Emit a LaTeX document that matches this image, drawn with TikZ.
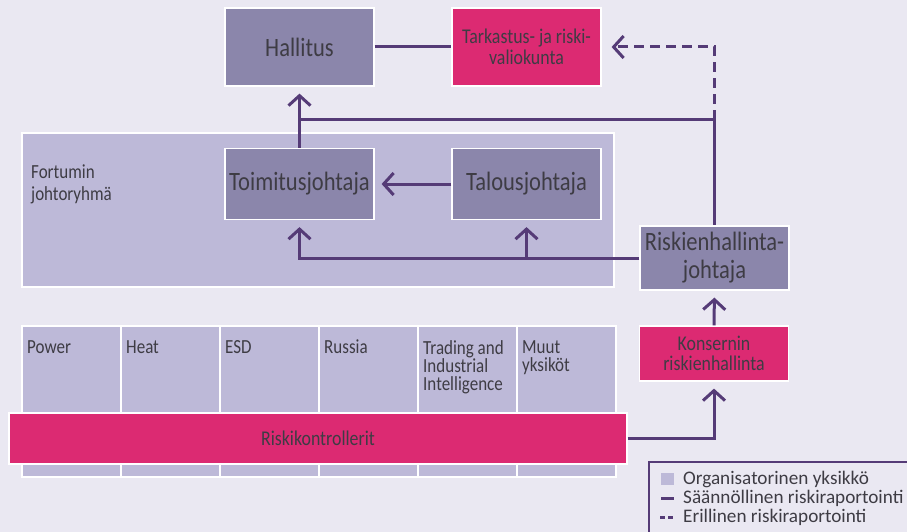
\documentclass[tikz,border=0pt]{standalone}
\usepackage{fontspec}
\setmainfont{Carlito}[FakeStretch=0.85]
\newfontfamily\legendfont{Carlito}
\usepackage{xcolor}
\usepackage{tikz}
\usetikzlibrary{positioning,arrows.meta}
\definecolor{paper}{RGB}{234,232,242}
\definecolor{unitfill}{RGB}{189,185,216}
\definecolor{headfill}{RGB}{139,134,171}
\definecolor{hot}{RGB}{220,42,114}
\definecolor{wire}{RGB}{85,59,119}
\definecolor{ink}{RGB}{62,60,68}

\begin{document}
\begin{tikzpicture}[x=1pt,y=-1pt,
  head/.style={draw=white,line width=1.2pt,fill=headfill,text=ink,minimum width=149pt,
               inner sep=0pt,align=center,font=\fontsize{26.5}{28}\selectfont},
  pink/.style={draw=white,line width=1.2pt,fill=hot,text=ink,minimum width=149pt,
               inner sep=0pt,align=center,font=\fontsize{21}{20.5}\selectfont},
  unit/.style={draw=white,line width=1.5pt,fill=unitfill,minimum width=99pt,
               minimum height=151pt,inner sep=0pt,anchor=north west},
  ulab/.style={anchor=north west,align=left,text=ink,inner sep=0pt,xshift=6pt,yshift=-15pt,
               font=\fontsize{20}{18}\selectfont},
  lgd/.style={anchor=west,text=ink,inner sep=0pt,font=\legendfont\fontsize{19.2}{20}\selectfont},
  ln/.style={draw=wire,line width=3pt},
  arr/.style={ln,-{Straight Barb[length=10pt,width=22pt]},shorten >=7pt},
  dsh/.style={arr,dash pattern=on 10pt off 6pt,shorten >=10pt}]
  \useasboundingbox[fill=paper] (0,0) rectangle (907,532);
  % ylin johto
  \node[head,minimum height=78pt] (hall) at (299.5,47) {Hallitus};
  \node[pink,minimum height=78pt] (tark) at (526.5,47) {Tarkastus- ja riski-\\valiokunta};
  % johtoryhma
  \node[draw=white,line width=1.5pt,fill=unitfill,minimum width=592pt,minimum height=154pt,
        inner sep=0pt] (grp) at (318,210) {};
  \node[anchor=west,align=left,text=ink,inner sep=0pt,font=\fontsize{20}{22}\selectfont]
    (grplab) at (31,184) {Fortumin\\johtoryhmä};
  \node[head,minimum height=71pt] (toim) at (299.5,184) {Toimitusjohtaja};
  \node[head,minimum height=71pt] (talo) at (526.5,184) {Talousjohtaja};
  \node[head,minimum height=64pt] (rhj) at (714.5,258) {Riskienhallinta-\\johtaja};
  \node[pink,minimum height=55pt] (kons) at (714,353.5) {Konsernin\\riskienhallinta};
  % yksikot
  \foreach \n/\x/\t in {1/21/Power,2/120/Heat,3/219/ESD,4/318/Russia,
                        5/417/{Trading and\\Industrial\\Intelligence},6/516/{Muut\\yksiköt}}
    \node[unit,label={[ulab]north west:\t}] (u\n) at (\x,325) {};
  \node[pink,minimum width=618pt,minimum height=51pt] (riski) at (318,438.5) {Riskikontrollerit};
  % raportointi
  \coordinate (jn) at (299.5,120);
  \draw[ln] (hall) -- (tark);
  \draw[arr] (toim.north) -- (hall.south);
  \draw[ln] (jn) -| (rhj.north);
  \draw[dsh] (rhj.north |- jn) |- (tark.east);
  \draw[arr] (talo.west) -- (toim.east);
  \draw[arr] (rhj.west) -| (toim.south);
  \coordinate (br) at (talo.south |- rhj.west);
  \draw[arr] (br) -- (talo.south);
  \draw[arr] (kons.north) -- (rhj.south);
  \draw[arr] (riski.east) -| (kons.south);
  % selite
  \draw[draw=wire,line width=1.5pt] (907,462) -| (649,532);
  \fill[unitfill] (661,473) rectangle (674,485);
  \draw[ln] (661,498) -- (674,498);
  \draw[ln,dash pattern=on 5pt off 3pt] (660,517) -- (675,517);
  \node[lgd] (lg1) at (683,479) {Organisatorinen yksikkö};
  \node[lgd] (lg2) at (683,498) {Säännöllinen riskiraportointi};
  \node[lgd] (lg3) at (683,517) {Erillinen riskiraportointi};
\end{tikzpicture}
\end{document}
